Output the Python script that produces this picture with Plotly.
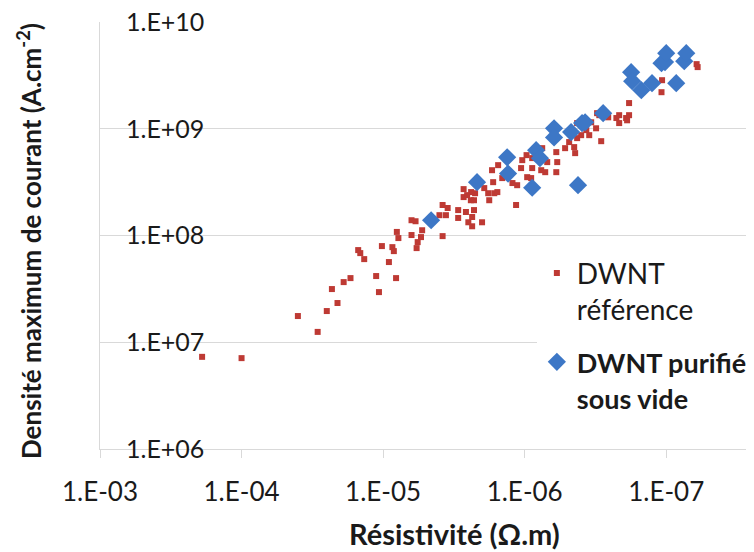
import plotly.graph_objects as go

# DWNT reference (red squares): resistivity (Ohm.m), max current density (A.cm-2)
ref_rho = [1.9e-4, 1.0e-4, 4.0e-5, 2.9e-5, 2.5e-5, 2.3e-5, 2.1e-5, 1.9e-5, 1.7e-5, 1.5e-5,
           1.45e-5, 1.36e-5, 1.12e-5, 1.07e-5, 1.02e-5, 9.1e-6, 8.6e-6, 8.4e-6, 8.1e-6, 8.0e-6,
           7.8e-6, 6.3e-6, 5.9e-6, 6.3e-6, 5.8e-6, 5.7e-6, 5.3e-6, 5.4e-6, 4.0e-6, 3.8e-6,
           3.5e-6, 3.6e-6, 3.8e-6, 2.95e-6, 2.95e-6, 2.7e-6, 2.7e-6, 2.6e-6, 2.55e-6, 2.4e-6,
           2.5e-6, 2.35e-6, 2.28e-6, 2.35e-6, 2.24e-6, 2.0e-6, 1.93e-6, 1.81e-6, 1.78e-6, 1.70e-6,
           1.67e-6, 1.64e-6, 1.54e-6, 2.39e-6, 2.28e-6, 1.56e-6, 1.44e-6, 1.22e-6, 1.13e-6, 1.15e-6,
           1.06e-6, 1.04e-6, 9.7e-7, 9.6e-7, 9.0e-7, 8.85e-7, 8.85e-7, 7.9e-7, 7.52e-7, 7.64e-7,
           7.16e-7, 6.93e-7, 5.98e-7, 5.98e-7, 5.89e-7, 5.18e-7, 4.85e-7, 4.47e-7, 4.40e-7, 4.26e-7,
           4.26e-7, 3.99e-7, 3.67e-7, 3.67e-7, 3.50e-7, 3.39e-7, 3.13e-7, 2.88e-7, 2.97e-7, 2.57e-7,
           2.25e-7, 2.15e-7, 1.92e-7, 1.83e-7, 1.83e-7, 6.1e-8, 6.0e-8, 1.07e-7, 1.08e-7, 2.15e-7,
           1.89e-7, 3.08e-7]
ref_j = [7.3e6, 7.1e6, 1.76e7, 1.25e7, 1.96e7, 3.15e7, 2.33e7, 3.66e7, 3.99e7, 7.3e7,
         6.84e7, 6.01e7, 4.17e7, 2.95e7, 7.96e7, 5.64e7, 7.78e7, 7.14e7, 3.99e7, 1.08e8,
         9.46e7, 1.39e8, 1.36e8, 1.01e8, 7.62e7, 8.67e7, 1.12e8, 9.66e7, 1.55e8, 1.93e8,
         1.81e8, 1.55e8, 9.87e7, 1.73e8, 1.46e8, 2.72e8, 2.29e8, 1.66e8, 2.39e8, 2.14e8,
         1.33e8, 1.49e8, 1.73e8, 1.22e8, 2.49e8, 1.33e8, 2.78e8, 2.49e8, 2.14e8, 4.09e8,
         3.16e8, 2.49e8, 4.56e8, 2.55e8, 2.14e8, 2.55e8, 3.45e8, 3.10e8, 2.96e8, 1.93e8,
         4.28e8, 5.08e8, 5.66e8, 3.52e8, 3.45e8, 4.28e8, 5.31e8, 6.31e8, 6.58e8, 4.09e8,
         3.92e8, 4.87e8, 6.04e8, 3.92e8, 4.87e8, 6.58e8, 7.5e8, 6.73e8, 5.91e8, 8.17e8,
         1.13e9, 8.71e8, 9.71e8, 1.13e9, 8.71e8, 1.15e9, 1.01e9, 7.65e8, 1.34e9, 1.28e9,
         1.26e9, 1.34e9, 1.26e9, 1.34e9, 1.74e9, 4.03e9, 3.78e9, 2.85e9, 2.20e9, 1.13e9,
         1.20e9, 1.40e9]

# DWNT purified under vacuum (blue diamonds)
pur_rho = [4.58e-6, 2.17e-6, 1.33e-6, 1.31e-6, 8.85e-7, 8.3e-7, 7.8e-7, 6.2e-7, 6.2e-7, 4.7e-7,
           4.2e-7, 3.93e-7, 3.74e-7, 2.79e-7, 1.77e-7, 1.74e-7, 1.50e-7, 1.26e-7, 1.08e-7, 1.02e-7,
           1.0e-7, 8.5e-8, 7.46e-8, 7.22e-8]
pur_j = [1.39e8, 3.16e8, 5.4e8, 3.8e8, 2.8e8, 6.3e8, 5.3e8, 1.01e9, 8.3e8, 9.3e8,
         2.96e8, 1.13e9, 1.15e9, 1.40e9, 3.39e9, 2.79e9, 2.30e9, 2.67e9, 4.11e9, 4.21e9,
         5.1e9, 2.67e9, 4.3e9, 5.1e9]

x_ticks = [1e-3, 1e-4, 1e-5, 1e-6, 1e-7]
x_labels = ["1.E-03", "1.E-04", "1.E-05", "1.E-06", "1.E-07"]
y_ticks = [1e6, 1e7, 1e8, 1e9, 1e10]
y_labels = ["1.E+06", "1.E+07", "1.E+08", "1.E+09", "1.E+10"]

font = "Lato, 'Open Sans', sans-serif"
grid = "#d9d9d9"
ink = "#1a1a1a"

fig = go.Figure()
fig.add_trace(go.Scatter(
    x=ref_rho, y=ref_j, mode="markers", legendgroup="ref",
    name="<span style='font-size:28px'>DWNT</span><br><span style='font-size:28px'>référence</span>",
    marker=dict(symbol="square", size=6, color="#BE3A34")))
fig.add_trace(go.Scatter(
    x=pur_rho, y=pur_j, mode="markers", legendgroup="pur",
    name="<span style='font-size:27px'><b>DWNT purifié</b></span><br>"
         "<span style='font-size:27px'><b>sous vide</b></span>",
    marker=dict(symbol="diamond", size=14, color="#3D77C6")))

# page body has an 8px margin, so the figure is shrunk and offset to fit the window
fig.update_layout(
    width=746, height=544,
    margin=dict(l=92, r=0, t=14, b=103),
    paper_bgcolor="white", plot_bgcolor="white",
    font=dict(family=font, color=ink),
    showlegend=True,
    legend=dict(x=0.668, y=0.47, xanchor="left", yanchor="top", bgcolor="white",
                font=dict(size=28, family=font, color=ink), valign="top",
                tracegroupgap=13, itemwidth=30),
    annotations=[
        dict(text="Résistivité (Ω.m)", xref="paper", yref="paper",
             x=(454 - 100) / 654, y=-(533 - 449) / 427, xanchor="center", yanchor="middle",
             showarrow=False, font=dict(size=29, family=font, weight="bold", color=ink)),
        dict(text="Densité maximum de courant (A.cm<sup>-2</sup>)", xref="paper", yref="paper",
             x=(29 - 100) / 654, y=1 - (241 - 22) / 427, xanchor="center", yanchor="middle",
             textangle=-90, showarrow=False,
             font=dict(size=26, family=font, weight="bold", color=ink)),
    ],
)
fig.update_xaxes(
    type="log", range=[-3, -7.62], tickvals=x_ticks, ticktext=x_labels,
    showgrid=False, showline=True, linecolor=grid, linewidth=1,
    ticks="outside", ticklen=8, tickcolor=grid, automargin=False,
    ticklabelstandoff=12,
    tickfont=dict(size=26, family=font, color=ink),
    zeroline=False,
)
fig.update_yaxes(
    type="log", range=[6, 10], tickvals=y_ticks, ticktext=y_labels,
    showgrid=True, gridcolor=grid, gridwidth=1, automargin=False,
    showline=True, linecolor=grid, linewidth=1, ticks="",
    ticklabelposition="inside", ticklabelstandoff=28, ticklabeloverflow="allow",
    tickfont=dict(size=25, family=font, color=ink),
    zeroline=False,
)

fig.write_html("out.html")
